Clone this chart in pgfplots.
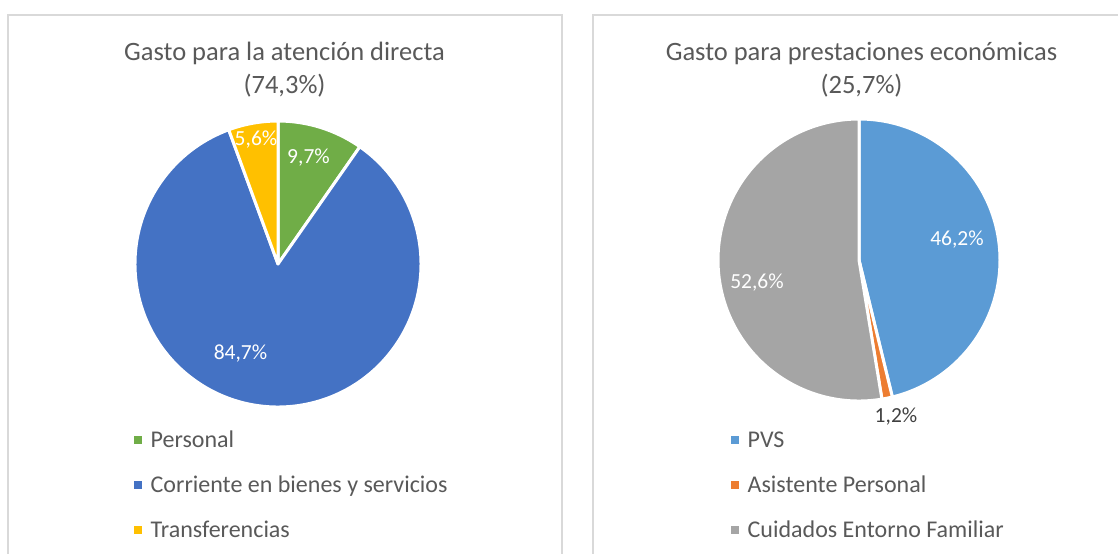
\documentclass[border=0pt]{standalone}
\usepackage{pgfplots}
\usepackage{pgfplotstable}
\pgfplotsset{compat=1.18}
\usepackage{fontspec}
\setmainfont{Carlito}

\definecolor{cgreen}{HTML}{70AD47}
\definecolor{cblue}{HTML}{4472C4}
\definecolor{cgold}{HTML}{FFC000}
\definecolor{clblue}{HTML}{5B9BD5}
\definecolor{corange}{HTML}{ED7D31}
\definecolor{cgray}{HTML}{A5A5A5}
\definecolor{txt}{HTML}{595959}
\definecolor{dlab}{HTML}{404040}
\definecolor{panel}{HTML}{D9D9D9}

\newcommand\titfont{\fontsize{26.5bp}{30bp}\selectfont}
\newcommand\legfont{\fontsize{24bp}{27bp}\selectfont}
\newcommand\labfont{\fontsize{21.5bp}{24bp}\selectfont}

% share (%), colour, label position (baseline, px), label colour
\pgfplotstableread{
name value color lx ly lcol
Personal 9.7 cgreen 308.5 163 white
{Corriente en bienes y servicios} 84.7 cblue 240.5 359 white
Transferencias 5.6 cgold 256 145 white
}\directa

\pgfplotstableread{
name value color lx ly lcol
PVS 46.2 clblue 957 245 white
{Asistente Personal} 1.2 corange 896 422 dlab
{Cuidados Entorno Familiar} 52.6 cgray 757 288 white
}\economicas

% #1 table, #2/#3 centre, #4 radius, #5 legend square x, #6 first legend baseline
\newcommand\drawpie[6]{%
  \def\cum{0}%
  \pgfplotsforeachungrouped \i in {0,1,2}{%
    \pgfplotstablegetelem{\i}{value}\of{#1}\let\val\pgfplotsretval
    \pgfplotstablegetelem{\i}{color}\of{#1}\let\col\pgfplotsretval
    \pgfplotstablegetelem{\i}{name}\of{#1}\let\nm\pgfplotsretval
    \pgfplotstablegetelem{\i}{lx}\of{#1}\let\lx\pgfplotsretval
    \pgfplotstablegetelem{\i}{ly}\of{#1}\let\ly\pgfplotsretval
    \pgfplotstablegetelem{\i}{lcol}\of{#1}\let\lcol\pgfplotsretval
    \pgfmathsetmacro\aa{90-3.6*\cum}%
    \pgfmathsetmacro\cum{\cum+\val}%
    \pgfmathsetmacro\ab{90-3.6*\cum}%
    \pgfmathsetmacro\by{#6+45*\i}%
    \pgfmathsetmacro\sy{\by-7.5}%
    \pgfmathsetmacro\tx{#5+16.5}%
    \edef\doslice{%
      \noexpand\fill[fill=\col, draw=white, line width=3bp, line join=round]
        (axis cs:#2,#3) -- ++(\aa:#4bp) arc[start angle=\aa, end angle=\ab, radius=#4bp] -- cycle;
      \noexpand\node[anchor=base, text=\lcol, font=\noexpand\labfont, inner sep=0pt]
        at (axis cs:\lx,\ly) {\noexpand\pgfmathprintnumber[use comma,fixed,fixed zerofill,precision=1,assume math mode=true]{\val}\noexpand\%};
      \noexpand\fill[\col] (axis cs:#5,\sy) ++(0,-4bp) rectangle ++(8bp,8bp);
      \noexpand\node[anchor=base west, text=txt, font=\noexpand\legfont, inner sep=0pt]
        at (axis cs:\tx,\by) {\nm};
    }%
    \doslice
  }%
}

\begin{document}
\begin{tikzpicture}
\path[use as bounding box] (0,0) rectangle (1118bp,554bp);
\begin{axis}[
    at={(0,0)}, anchor=south west,
    x=1bp, y=1bp,
    xmin=0, xmax=1118, ymin=0, ymax=554,
    y dir=reverse,
    hide axis, clip=false,
]
    % panels
    \draw[panel, line width=1.2bp] (axis cs:8,554) -- (axis cs:8,15) -- (axis cs:562,15) -- (axis cs:562,554);
    \draw[panel, line width=1.2bp] (axis cs:593,554) -- (axis cs:593,15) -- (axis cs:1118,15);

    % titles
    \node[anchor=base, text=txt, font=\titfont, inner sep=0pt] at (axis cs:284.5,60) {Gasto para la atención directa};
    \node[anchor=base, text=txt, font=\titfont, inner sep=0pt] at (axis cs:284.5,93.5) {(74,3\%)};
    \node[anchor=base, text=txt, font=\titfont, inner sep=0pt] at (axis cs:861.5,60) {Gasto para prestaciones económicas};
    \node[anchor=base, text=txt, font=\titfont, inner sep=0pt] at (axis cs:861.5,93.5) {(25,7\%)};

    \drawpie{\directa}{278}{264}{143}{134}{447}
    \drawpie{\economicas}{859}{260}{141}{731}{447}
\end{axis}
\end{tikzpicture}
\end{document}
